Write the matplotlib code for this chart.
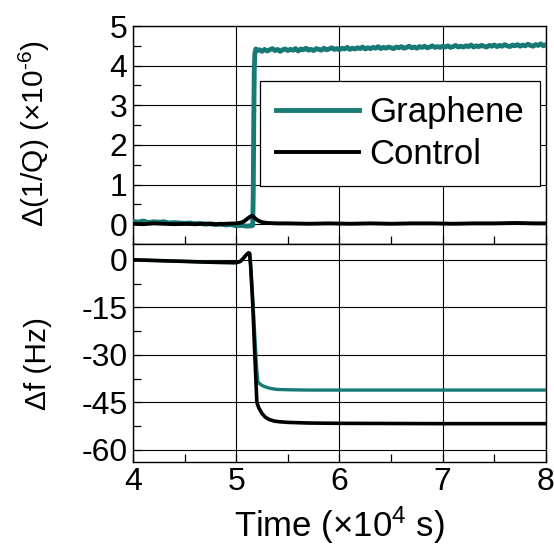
import matplotlib
matplotlib.use("Agg")
import matplotlib.pyplot as plt
import numpy as np
from matplotlib.ticker import MultipleLocator

plt.rcParams['font.family'] = ['Liberation Sans', 'DejaVu Sans']
plt.rcParams['mathtext.fontset'] = 'custom'
plt.rcParams['mathtext.rm'] = 'Liberation Sans'
plt.rcParams['mathtext.it'] = 'Liberation Sans'
plt.rcParams['axes.unicode_minus'] = False

# ---------------- data (time in 1e4 s) ----------------
# Top panel: graphene delta(1/Q) (x1e-6)
g_q_t_pre = [4.00, 4.05, 4.10, 4.15, 4.20, 4.25, 4.30, 4.35, 4.40, 4.45, 4.50, 4.55,
             4.60, 4.65, 4.70, 4.75, 4.80, 4.85, 4.90, 4.95, 5.00, 5.05, 5.10, 5.15,
             5.16, 5.165, 5.17, 5.175, 5.18, 5.19, 5.20]
g_q_v_pre = [0.07, 0.05, 0.08, 0.04, 0.06, 0.05, 0.06, 0.03, 0.04, 0.03, 0.02, 0.03,
             0.01, 0.02, 0.00, 0.01, -0.01, 0.00, -0.02, -0.01, -0.04, -0.03, -0.05, -0.04,
             -0.03, 0.8, 2.6, 3.9, 4.30, 4.42, 4.38]
g_q_t_plat = [5.225, 5.250, 5.275, 5.300, 5.325, 5.350, 5.375, 5.400, 5.425, 5.450,
              5.475, 5.500, 5.525, 5.550, 5.575, 5.600, 5.625, 5.650, 5.675, 5.700,
              5.725, 5.750, 5.775, 5.800, 5.825, 5.850, 5.875, 5.900, 5.925, 5.950,
              5.975, 6.000, 6.025, 6.050, 6.075, 6.100, 6.125, 6.150, 6.175, 6.200,
              6.225, 6.250, 6.275, 6.300, 6.325, 6.350, 6.375, 6.400, 6.425, 6.450,
              6.475, 6.500, 6.525, 6.550, 6.575, 6.600, 6.625, 6.650, 6.675, 6.700,
              6.725, 6.750, 6.775, 6.800, 6.825, 6.850, 6.875, 6.900, 6.925, 6.950,
              6.975, 7.000, 7.025, 7.050, 7.075, 7.100, 7.125, 7.150, 7.175, 7.200,
              7.225, 7.250, 7.275, 7.300, 7.325, 7.350, 7.375, 7.400, 7.425, 7.450,
              7.475, 7.500, 7.525, 7.550, 7.575, 7.600, 7.625, 7.650, 7.675, 7.700,
              7.725, 7.750, 7.775, 7.800, 7.825, 7.850, 7.875, 7.900, 7.925, 7.950,
              7.975, 8.000]
g_q_v_plat = [4.40, 4.36, 4.41, 4.37, 4.40, 4.43, 4.38, 4.41, 4.36, 4.40,
              4.42, 4.38, 4.41, 4.39, 4.43, 4.37, 4.42, 4.40, 4.44, 4.39,
              4.41, 4.38, 4.43, 4.41, 4.39, 4.44, 4.40, 4.42, 4.45, 4.41,
              4.43, 4.40, 4.44, 4.42, 4.46, 4.41, 4.44, 4.42, 4.45, 4.43,
              4.47, 4.42, 4.45, 4.43, 4.46, 4.44, 4.48, 4.43, 4.46, 4.44,
              4.47, 4.45, 4.43, 4.47, 4.45, 4.48, 4.44, 4.46, 4.49, 4.45,
              4.47, 4.44, 4.48, 4.46, 4.49, 4.45, 4.47, 4.50, 4.46, 4.48,
              4.46, 4.49, 4.47, 4.50, 4.46, 4.48, 4.51, 4.47, 4.49, 4.47,
              4.50, 4.48, 4.52, 4.47, 4.50, 4.48, 4.51, 4.49, 4.47, 4.51,
              4.49, 4.52, 4.48, 4.51, 4.49, 4.53, 4.50, 4.48, 4.52, 4.50,
              4.53, 4.49, 4.52, 4.50, 4.54, 4.51, 4.49, 4.53, 4.51, 4.55,
              4.50, 4.53]

# Top panel: control delta(1/Q) (x1e-6)
c_q_t = [4.00, 4.10, 4.20, 4.30, 4.40, 4.50, 4.60, 4.70, 4.80, 4.90, 5.00, 5.05,
         5.08, 5.11, 5.13, 5.15, 5.17, 5.19, 5.22, 5.25, 5.30, 5.40, 5.50, 5.70,
         5.90, 6.10, 6.30, 6.50, 6.70, 6.90, 7.10, 7.30, 7.50, 7.70, 7.90, 8.00]
c_q_v = [0.01, 0.00, 0.02, 0.01, 0.00, 0.01, 0.00, 0.01, 0.00, 0.01, 0.02, 0.04,
         0.08, 0.14, 0.18, 0.21, 0.18, 0.13, 0.08, 0.05, 0.03, 0.02, 0.02, 0.01,
         0.02, 0.01, 0.02, 0.01, 0.02, 0.02, 0.01, 0.02, 0.02, 0.03, 0.02, 0.02]

# Bottom panel: delta f (Hz)
g_f_t = [4.00, 4.20, 4.40, 4.60, 4.80, 5.00, 5.04, 5.07, 5.10, 5.12, 5.13, 5.14,
         5.16, 5.18, 5.20, 5.21, 5.23, 5.26, 5.30, 5.35, 5.40, 5.50, 5.70, 6.00,
         7.00, 8.00]
g_f_v = [0.0, -0.2, -0.4, -0.6, -0.8, -0.9, -0.5, 0.5, 1.7, 2.2, 2.0, -2.0,
         -12.0, -24.0, -35.0, -38.5, -39.2, -39.8, -40.3, -40.7, -40.9, -41.0, -41.1, -41.1,
         -41.1, -41.1]
c_f_t = [4.00, 4.20, 4.40, 4.60, 4.80, 5.00, 5.04, 5.07, 5.10, 5.12, 5.13, 5.14,
         5.16, 5.18, 5.20, 5.22, 5.25, 5.28, 5.32, 5.37, 5.42, 5.50, 5.70, 6.00,
         7.00, 8.00]
c_f_v = [0.0, -0.2, -0.4, -0.6, -0.8, -0.9, -0.5, 0.5, 1.7, 2.2, 2.0, -2.0,
         -14.0, -30.0, -45.0, -46.8, -48.5, -49.6, -50.4, -50.9, -51.1, -51.3, -51.5, -51.6,
         -51.7, -51.7]

teal = '#177a75'

fig = plt.figure(figsize=(5.54, 5.51), dpi=100)
axL = 0.240
axW = 0.7455
ax1 = fig.add_axes([axL, 0.5572, axW, 0.3956])
ax2 = fig.add_axes([axL, 0.1621, axW, 0.3951], sharex=ax1)

fs_tick = 23
fs_ylab = 21.5
fs_xlab = 25
fs_leg = 25

ax1.plot(g_q_t_pre + g_q_t_plat, g_q_v_pre + g_q_v_plat, color=teal, lw=3.5, label='Graphene', zorder=3)
ax1.plot(c_q_t, c_q_v, color='black', lw=2.8, label='Control', zorder=4)
ax2.plot(g_f_t, g_f_v, color=teal, lw=2.4, zorder=3)
ax2.plot(c_f_t, c_f_v, color='black', lw=2.6, zorder=4)

ax1.set_xlim(4, 8)
ax1.set_ylim(-0.5, 5)
ax2.set_ylim(-63.7, 5)

ax1.yaxis.set_major_locator(MultipleLocator(1))
ax1.yaxis.set_minor_locator(MultipleLocator(0.5))
ax2.yaxis.set_major_locator(MultipleLocator(15))
ax2.yaxis.set_minor_locator(MultipleLocator(7.5))
ax2.xaxis.set_major_locator(MultipleLocator(1))
ax2.xaxis.set_minor_locator(MultipleLocator(0.5))

for ax in (ax1, ax2):
    ax.grid(True, which='major', color='black', lw=0.8)
    ax.tick_params(which='both', direction='in', labelsize=fs_tick, width=0.9)
    ax.tick_params(which='major', length=6, pad=4)
    ax.tick_params(which='minor', length=6)
    for s in ax.spines.values():
        s.set_linewidth(1.0)
        s.set_color('black')
ax1.tick_params(labelbottom=False)

ax1.set_ylabel('\u0394(1/Q) (\u00d710$^{\u20106}$)', fontsize=fs_ylab)
ax2.set_ylabel('\u0394f (Hz)', fontsize=fs_ylab)
ax2.set_xlabel('Time (\u00d710$^{4}$ s)', fontsize=fs_xlab, labelpad=5)
ax1.yaxis.set_label_coords(-0.196, 0.507)
ax2.yaxis.set_label_coords(-0.196, 0.449)

leg = ax1.legend(loc='upper right', bbox_to_anchor=(0.985, 0.75), fontsize=fs_leg,
                 frameon=True, fancybox=False, edgecolor='black', framealpha=1,
                 handlelength=2.4, handletextpad=0.3, labelspacing=0.25,
                 borderpad=0.45, borderaxespad=0.0)
leg.get_frame().set_linewidth(0.9)

fig.savefig('out.png', dpi=100)
